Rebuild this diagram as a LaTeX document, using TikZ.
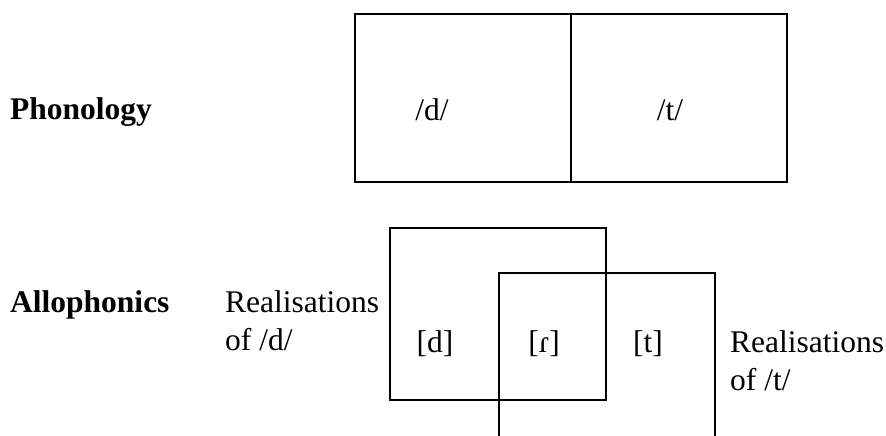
\documentclass[tikz,border=0pt]{standalone}
\usepackage{fontspec}
\setmainfont{Liberation Serif}
\begin{document}
\begin{tikzpicture}[x=1pt,y=-1pt,
  lbl/.style={inner sep=0pt,anchor=base west,font=\fontsize{31.5}{38}\selectfont},
  sym/.style={inner sep=0pt,anchor=base,font=\fontsize{31.5}{38}\selectfont},
  boxline/.style={line width=1.7pt,line cap=rect}]
\useasboundingbox (0,0) rectangle (886,436);
% phonology box
\draw[boxline] (355,14) rectangle (787,182);
\draw[boxline] (571,14) -- (571,182);
% allophonic boxes
\draw[boxline] (390,228) rectangle (606,400);
\draw[boxline] (499,437) -- (499,273) -- (715,273) -- (715,437);
% texts
\node[lbl,font=\fontsize{31.5}{38}\selectfont\bfseries] (phon) at (10,119) {Phonology};
\node[lbl,font=\fontsize{31.5}{38}\selectfont\bfseries] (allo) at (10,312) {Allophonics};
\node[sym] (pd) at (432,120) {/d/};
\node[sym] (pt) at (670,120) {/t/};
\node[lbl] (rd1) at (225,312) {Realisations};
\node[lbl] (rd2) at (225,350) {of /d/};
\node[lbl] (rt1) at (730,352) {Realisations};
\node[lbl] (rt2) at (730,390) {of /t/};
\node[sym] (ad) at (435,352) {[d]};
\node[sym] (af) at (544,352) {[ɾ]};
\node[sym] (at) at (648,352) {[t]};
\end{tikzpicture}
\end{document}
